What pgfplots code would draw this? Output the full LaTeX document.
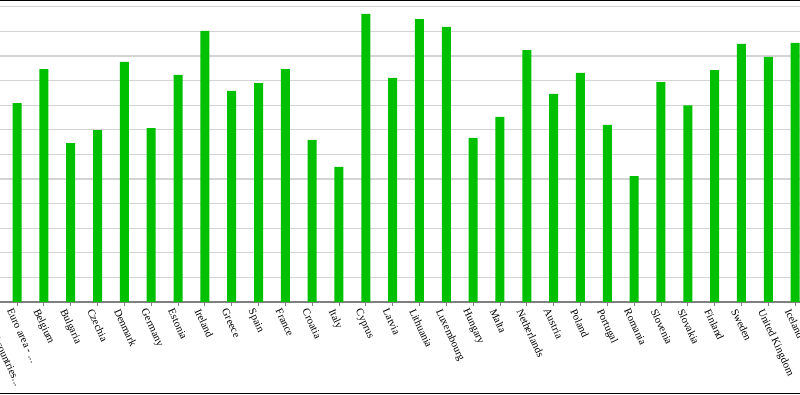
\documentclass[border=0pt]{standalone}
\usepackage{fontspec}
\setmainfont{Liberation Serif}
\usepackage{pgfplots}
\pgfplotsset{compat=1.18}
\definecolor{bargreen}{RGB}{0,192,0}
\definecolor{gridgray}{RGB}{212,212,212}
\definecolor{axgray}{RGB}{128,128,128}
\newcommand{\dd}{.{}.{}.}
\begin{document}
\begin{tikzpicture}[x=1pt,y=1pt]
\useasboundingbox (0,0) rectangle (800,395);
\clip (0,0) rectangle (800,395);
\begin{axis}[
  at={(-36.63pt,93pt)}, anchor=south west,
  scale only axis, width=858.56pt, height=302pt,
  xmin=-1, xmax=31, ymin=0, ymax=122.76,
  ybar, bar width=9pt,
  axis x line*=bottom, axis y line*=left,
  y axis line style={draw=none},
  x axis line style={draw=axgray, line width=1.3pt},
  xtick={0,1,2,3,4,5,6,7,8,9,10,11,12,13,14,15,16,17,18,19,20,21,22,23,24,25,26,27,28,29,30},
  xticklabels={{EU - 27 countries\dd},{Euro area - \dd},Belgium,Bulgaria,Czechia,Denmark,Germany,Estonia,Ireland,Greece,Spain,France,Croatia,Italy,Cyprus,Latvia,Lithuania,Luxembourg,Hungary,Malta,Netherlands,Austria,Poland,Portugal,Romania,Slovenia,Slovakia,Finland,Sweden,United Kingdom,Iceland},
  x tick label style={font=\fontsize{10.7}{12}\selectfont, rotate=-65, anchor=north west, inner sep=1pt, yshift=-3pt, xshift=-1pt},
  tick align=outside, major tick length=4pt,
  xtick style={draw=axgray, line width=0.8pt},
  ytick={0,10,20,30,40,50,60,70,80,90,100,110,120}, yticklabels={},
  ytick style={draw=none},
  ymajorgrids, major grid style={draw=gridgray, line width=1.3pt},
  clip=true,
]
\addplot[fill=bargreen, draw=none] coordinates {
(0,88) (1,80.8) (2,94.7) (3,64.6) (4,69.9) (5,97.6) (6,70.7) (7,92.3) (8,110.2) (9,85.8) (10,89.0)
(11,94.7) (12,65.9) (13,54.9) (14,117.1) (15,91.1) (16,115.0) (17,111.8) (18,66.7) (19,75.2)
(20,102.4) (21,84.6) (22,93.1) (23,72.0) (24,51.2) (25,89.4) (26,79.9) (27,94.3) (28,104.9)
(29,99.6) (30,105.3)};
\end{axis}
\draw[black, line width=2pt] (0,395) -- (800,395);
\draw[black, line width=1.6pt] (0,1.6) -- (800,1.6);
\end{tikzpicture}
\end{document}
